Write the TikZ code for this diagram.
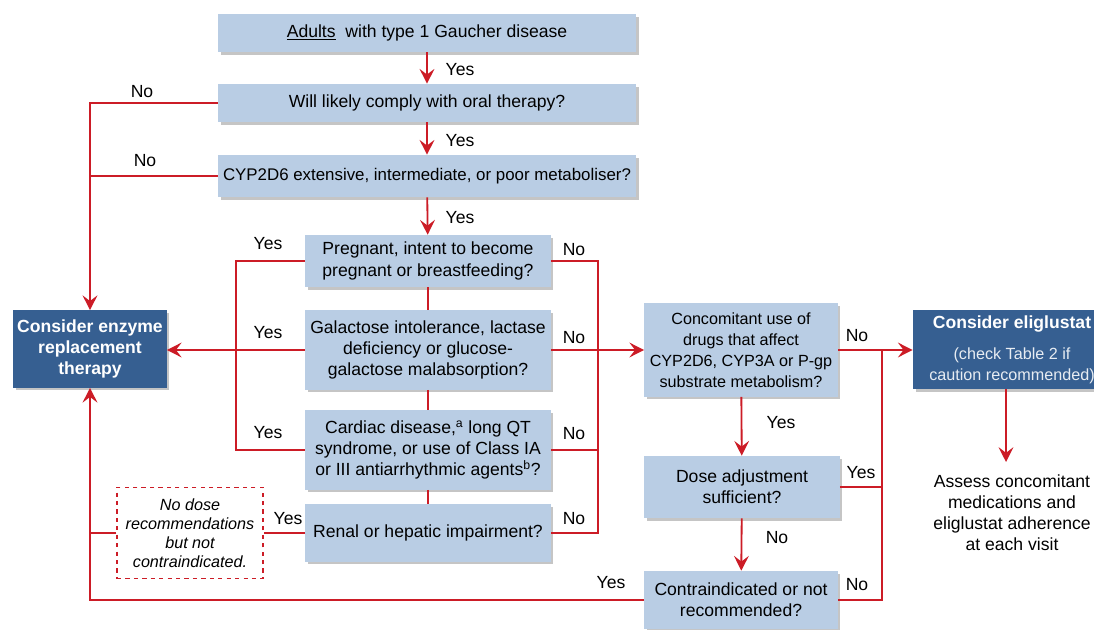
\documentclass[tikz,border=0pt]{standalone}
\usepackage{fontspec}
\setmainfont{Liberation Sans}
\usetikzlibrary{arrows.meta,shadows}

\definecolor{boxblue}{RGB}{185,205,228}
\definecolor{darkblue}{RGB}{54,95,145}
\definecolor{linered}{RGB}{204,28,38}

\newcommand{\capsize}{\fontsize{11.5}{13.5}\selectfont\mdseries\color{white!88!darkblue}}

\begin{document}
\begin{tikzpicture}[x=0.025cm, y=-0.025cm,
        >={Stealth[length=10.5pt,width=10.5pt,inset=4pt]},
        every node/.style={font=\fontsize{12.5}{15}\selectfont},
        qbox/.style={fill=boxblue, align=center, inner sep=1pt,
                drop shadow={shadow xshift=2pt, shadow yshift=-2pt, fill=black!45, opacity=0.5}},
        endbox/.style={fill=darkblue, text=white, align=center, inner sep=1pt,
                font=\fontsize{12.5}{15}\selectfont\bfseries,
                drop shadow={shadow xshift=2pt, shadow yshift=-2pt, fill=black!45, opacity=0.5}},
        notebox/.style={draw=linered, dashed, line width=0.8pt, fill=white, align=center,
                font=\fontsize{11.5}{13.5}\selectfont\itshape},
        link/.style={draw=linered, line width=1.3pt},
        lbl/.style={inner sep=1pt}]
        \clip (0,0) rectangle (1094,630);
        \fill[white] (0,0) rectangle (1094,630);

        % Top questions
        \node [qbox, minimum width=10.45cm, minimum height=0.95cm] (adults) at (427,33)
                {\underline{Adults}\ \ with type 1 Gaucher disease};
        \node [qbox, minimum width=10.45cm, minimum height=0.95cm] (comply) at (427,103)
                {Will likely comply with oral therapy?};
        \node [qbox, minimum width=10.45cm, minimum height=1.05cm, font=\fontsize{12}{14}\selectfont] (cyp) at (427,176)
                {CYP2D6 extensive, intermediate, or poor metaboliser?};

        % Contraindication checks
        \node [qbox, minimum width=6.125cm, minimum height=1.3cm] (pregnant) at (428,261)
                {Pregnant, intent to become\\pregnant or breastfeeding?};
        \node [qbox, minimum width=6.125cm, minimum height=1.975cm] (galactose) at (428,350)
                {Galactose intolerance, lactase\\deficiency or glucose-\\galactose malabsorption?};
        \node [qbox, minimum width=6.125cm, minimum height=1.975cm] (cardiac) at (428,450)
                {Cardiac disease,\textsuperscript{a} long QT\\syndrome, or use of Class IA\\or III antiarrhythmic agents\textsuperscript{b}?};
        \node [qbox, minimum width=6.125cm, minimum height=1.425cm] (renal) at (428,533)
                {Renal or hepatic impairment?};

        % Outcomes on the left
        \node [endbox, minimum width=3.825cm, minimum height=1.925cm] (ert) at (90,349)
                {Consider enzyme\\replacement\\therapy};
        \node [notebox, minimum width=3.65cm, minimum height=2.275cm] (nodose) at (190,533)
                {No dose\\recommendations\\but not\\contraindicated.};

        % Drug interactions
        \node [qbox, minimum width=4.825cm, minimum height=2.325cm, font=\fontsize{11.5}{15}\selectfont] (concom) at (741,350)
                {Concomitant use of\\drugs that affect\\CYP2D6, CYP3A or P-gp\\substrate metabolism?};
        \node [qbox, minimum width=4.875cm, minimum height=1.55cm] (dose) at (742,487)
                {Dose adjustment\\sufficient?};
        \node [qbox, minimum width=4.825cm, minimum height=1.45cm] (contra) at (741,600)
                {Contraindicated or not\\recommended?};

        % Outcome on the right
        \node [endbox, minimum width=4.95cm, minimum height=1.975cm] (eliglu) at (1012,349.5)
                {Consider eliglustat\\[7pt]\capsize (check Table 2 if\\\capsize caution recommended)};
        \node [align=center] (assess) at (1012,513)
                {Assess concomitant\\medications and\\eliglustat adherence\\at each visit};
        \coordinate (assesstop) at (1006,462);

        % Buses
        \coordinate (ybus) at (236,0);
        \coordinate (nbus) at (598,0);
        \coordinate (rbus) at (882,0);

        % Main line
        \draw [link,->] (adults) -- (comply);
        \draw [link,->] (comply) -- (cyp);
        \draw [link,->] (cyp) -- (pregnant);
        \draw [link] (pregnant) -- (galactose);
        \draw [link] (galactose) -- (cardiac);
        \draw [link] (cardiac) -- (renal);

        % To enzyme replacement therapy
        \draw [link,->] (comply.west) -| (ert.north);
        \draw [link] (cyp.west) -- (cyp.west -| ert.north);
        \draw [link] (pregnant.west) -| (ybus |- cardiac.west) -- (cardiac.west);
        \draw [link,->] (galactose.west) -- (galactose.west -| ert.east);
        \draw [link] (renal.west) -- (nodose.east);
        \draw [link] (nodose.west) -- (nodose.west -| ert.south);
        \draw [link,->] (contra.west) -| (ert.south);

        % To eliglustat
        \draw [link] (pregnant.east) -| (nbus |- renal.east) -- (renal.east);
        \draw [link] (cardiac.east) -- (cardiac.east -| nbus);
        \draw [link,->] (galactose.east) -- (concom.west);
        \draw [link,->] (concom) -- (dose);
        \draw [link,->] (dose) -- (contra);
        \draw [link,->] (concom.east) -- (concom.east -| eliglu.west);
        \draw [link] (dose.east) -- (dose.east -| rbus);
        \draw [link] (contra.east) -| (rbus |- concom.east);
        \draw [link,->] (eliglu.south -| assesstop) -- (assesstop);

        % Labels
        \node [lbl] (yes1) at (460,70) {Yes};
        \node [lbl] (yes2) at (460,141) {Yes};
        \node [lbl] (yes3) at (460,218) {Yes};
        \node [lbl] (no1) at (142,92) {No};
        \node [lbl] (no2) at (145,161) {No};
        \node [lbl] (yes4) at (268,244) {Yes};
        \node [lbl] (yes5) at (268,333) {Yes};
        \node [lbl] (yes6) at (268,433) {Yes};
        \node [lbl] (yes7) at (288,519) {Yes};
        \node [lbl] (no3) at (574,250) {No};
        \node [lbl] (no4) at (574,338) {No};
        \node [lbl] (no5) at (574,434) {No};
        \node [lbl] (no6) at (574,519) {No};
        \node [lbl] (yes8) at (611,583) {Yes};
        \node [lbl] (no7) at (857,336) {No};
        \node [lbl] (yes9) at (781,423) {Yes};
        \node [lbl] (yes10) at (861,473) {Yes};
        \node [lbl] (no8) at (777,538) {No};
        \node [lbl] (no9) at (857,585) {No};
\end{tikzpicture}
\end{document}
